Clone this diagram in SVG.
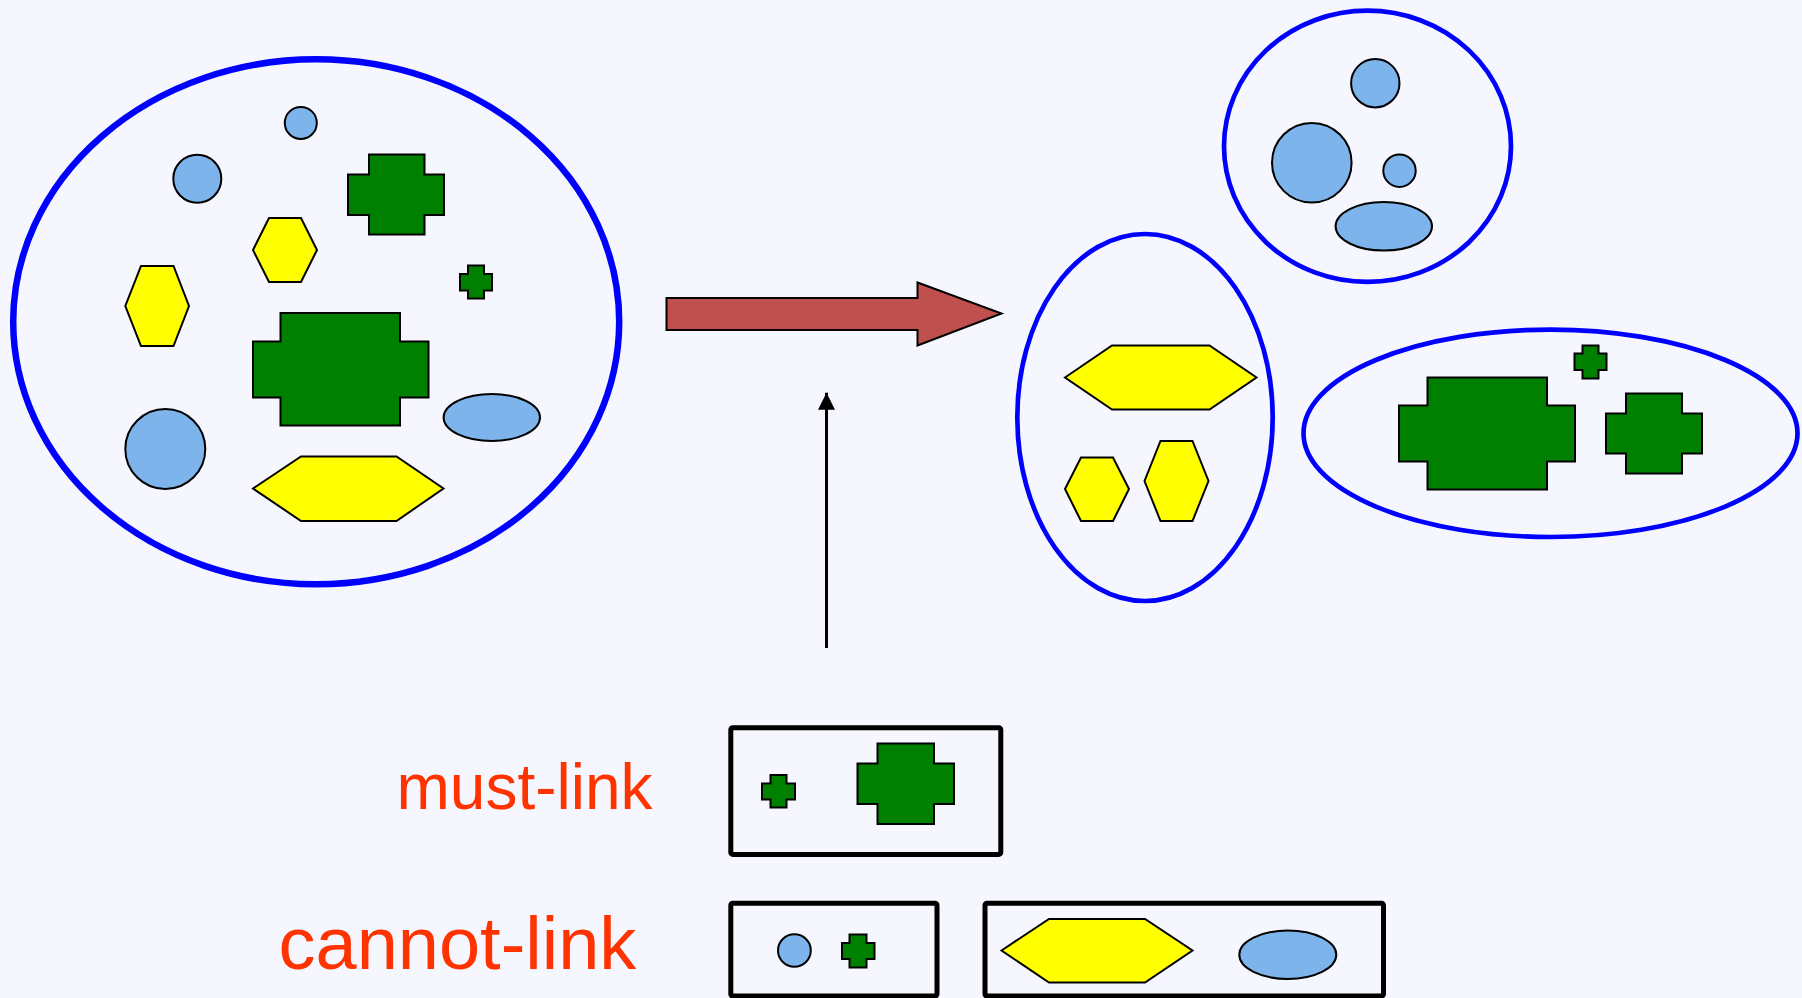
<svg xmlns="http://www.w3.org/2000/svg" width="1802" height="998" viewBox="0 0 1802 998">
  <defs>
    <style>
      .cluster { fill: none; stroke: #0000FF; stroke-width: 4.7; }
      .dot { fill: #7DB4EB; stroke: #000; stroke-width: 2; }
      .plus { fill: #008000; stroke: #000; stroke-width: 2; stroke-linejoin: miter; }
      .hex { fill: #FFFF00; stroke: #000; stroke-width: 2; stroke-linejoin: miter; }
      .pair { fill: none; stroke: #000; stroke-width: 5; }
      .label { font-family: "Liberation Sans", Arial, sans-serif; fill: #FF3300; }
    </style>
    <marker id="tip" viewBox="0 0 17 17" refX="17" refY="8.5" markerWidth="17" markerHeight="17" markerUnits="userSpaceOnUse" orient="auto">
      <path d="M0 0 L17 8.5 L0 17 Z" fill="#000"/>
    </marker>
  </defs>

  <rect width="1802" height="998" fill="#F6F7FE"/>

  <!-- unlabelled data set -->
  <g id="dataset">
    <ellipse class="cluster" cx="316.2" cy="321.8" rx="303" ry="262.5" style="stroke-width:6.5"/>
    <ellipse class="dot" cx="300.8" cy="122.9" rx="16" ry="16"/>
    <ellipse class="dot" cx="197.3" cy="178.7" rx="24" ry="24"/>
    <path class="plus" d="M369 154.5 H424.5 V174.5 H444 V215 H424.5 V234.5 H369 V215 H348 V174.5 H369 Z"/>
    <polygon class="hex" points="253,250 269,218 301,218 317,250 301,282 269,282"/>
    <path class="plus" d="M468 265.5 H484 V274 H492 V290.5 H484 V298.5 H468 V290.5 H460 V274 H468 Z"/>
    <polygon class="hex" points="141,266 173.5,266 189,306 173.5,346 141,346 125.3,306"/>
    <path class="plus" d="M280.5 313 H400 V341.5 H428.5 V397.5 H400 V425.5 H280.5 V397.5 H253 V341.5 H280.5 Z"/>
    <ellipse class="dot" cx="491.8" cy="417.5" rx="48.2" ry="23.5"/>
    <ellipse class="dot" cx="165.3" cy="449" rx="40" ry="40"/>
    <polygon class="hex" points="253,488.5 301,456.5 396.5,456.5 443.5,488.5 396.5,521 301,521"/>
  </g>

  <!-- resulting clusters -->
  <g id="cluster-hexagons">
    <ellipse class="cluster" cx="1145" cy="417.5" rx="127.7" ry="183.5"/>
    <polygon class="hex" points="1065,377.5 1112,345.5 1209.5,345.5 1256.5,377.5 1209.5,409.5 1112,409.5"/>
    <polygon class="hex" points="1065,489 1081,457.5 1113,457.5 1129,489 1113,521 1081,521"/>
    <polygon class="hex" points="1144.5,481 1160.5,441 1192.5,441 1208.5,481 1192.5,521 1160.5,521"/>
  </g>

  <g id="cluster-circles">
    <ellipse class="cluster" cx="1367.5" cy="146.3" rx="143.5" ry="135.6"/>
    <ellipse class="dot" cx="1375.3" cy="83.2" rx="24.2" ry="24.2"/>
    <ellipse class="dot" cx="1311.8" cy="162.7" rx="39.8" ry="39.8"/>
    <ellipse class="dot" cx="1399.5" cy="170.7" rx="16.2" ry="16.2"/>
    <ellipse class="dot" cx="1383.8" cy="226.3" rx="48.2" ry="24.3"/>
  </g>

  <g id="cluster-crosses">
    <ellipse class="cluster" cx="1550.5" cy="433.3" rx="247" ry="103.7"/>
    <path class="plus" d="M1582.5 345.5 H1598.5 V353.5 H1606.5 V370 H1598.5 V378.5 H1582.5 V370 H1574.5 V353.5 H1582.5 Z"/>
    <path class="plus" d="M1427.5 377.5 H1547 V405.5 H1575 V461.5 H1547 V489.5 H1427.5 V461.5 H1399 V405.5 H1427.5 Z"/>
    <path class="plus" d="M1626 393.5 H1682 V413.5 H1702 V453.5 H1682 V473.5 H1626 V453.5 H1606 V413.5 H1626 Z"/>
  </g>

  <!-- pairwise constraints -->
  <g id="must-link">
    <text class="label" x="396.5" y="809.3" font-size="64">must-link</text>
    <rect class="pair" x="730.8" y="727.8" width="270" height="126.6" rx="2"/>
    <path class="plus" d="M770.5 775 H786.5 V783.5 H795 V799.5 H786.5 V807.5 H770.5 V799.5 H762 V783.5 H770.5 Z"/>
    <path class="plus" d="M877.5 743.5 H934 V763.5 H954 V804 H934 V824 H877.5 V804 H857.5 V763.5 H877.5 Z"/>
  </g>

  <g id="cannot-link">
    <text class="label" x="278.5" y="969.3" font-size="74">cannot-link</text>
  </g>

  <g id="cannot-link-pair-1">
    <rect class="pair" x="730.8" y="903.3" width="206.2" height="92.7" rx="2"/>
    <ellipse class="dot" cx="794.4" cy="950.5" rx="16.4" ry="16.2"/>
    <path class="plus" d="M849.5 934.5 H866.5 V943 H874.5 V959 H866.5 V967.5 H849.5 V959 H842 V943 H849.5 Z"/>
  </g>

  <g id="cannot-link-pair-2">
    <rect class="pair" x="985" y="903.3" width="398.5" height="92.7" rx="2"/>
    <polygon class="hex" points="1001.5,950.5 1049,919 1145,919 1192.5,950.5 1145,982.5 1049,982.5"/>
    <ellipse class="dot" cx="1287.8" cy="954.8" rx="48.5" ry="24.2"/>
  </g>

  <!-- connectors -->
  <g id="connectors">
    <polygon points="666.5,298 917.5,298 917.5,282.5 1001.5,313.5 917.5,345.5 917.5,330 666.5,330" fill="#C0504D" stroke="#000" stroke-width="2" stroke-linejoin="miter"/>
    <line x1="826.5" y1="648" x2="826.5" y2="392.7" stroke="#000" stroke-width="3" marker-end="url(#tip)"/>
  </g>
</svg>
